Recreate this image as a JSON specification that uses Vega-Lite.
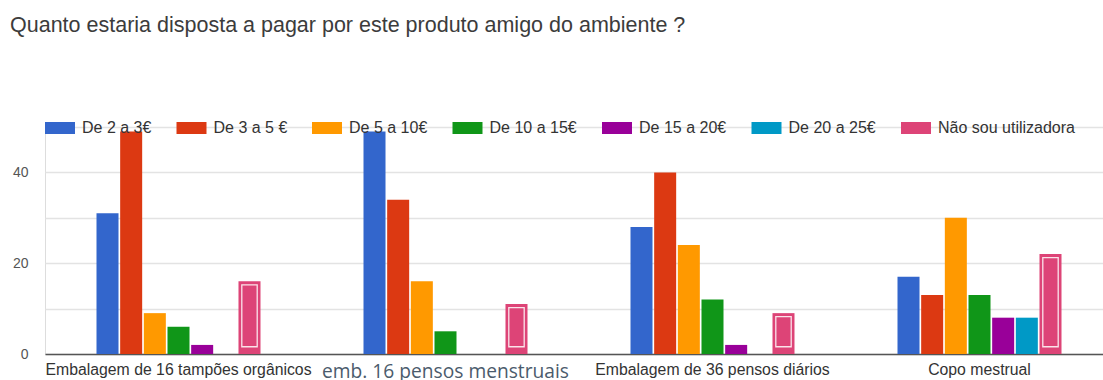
{
  "$schema": "https://vega.github.io/schema/vega-lite/v6.json",
  "autosize": {"type": "none"},
  "padding": {"left": 45, "top": 127, "right": 0, "bottom": 26},
  "width": 1058,
  "height": 227,
  "background": "white",
  "title": {
    "text": "Quanto estaria disposta a pagar por este produto amigo do ambiente ?",
    "anchor": "start",
    "frame": "group",
    "font": "Liberation Sans",
    "fontSize": 21.5,
    "fontWeight": "normal",
    "color": "#3c3c3c",
    "dx": -35,
    "offset": 80
  },
  "data": {
    "values": [
      {"produto": "Embalagem de 16 tampões orgânicos", "faixa": "De 2 a 3€", "n": 31},
      {"produto": "Embalagem de 16 tampões orgânicos", "faixa": "De 3 a 5 €", "n": 49},
      {"produto": "Embalagem de 16 tampões orgânicos", "faixa": "De 5 a 10€", "n": 9},
      {"produto": "Embalagem de 16 tampões orgânicos", "faixa": "De 10 a 15€", "n": 6},
      {"produto": "Embalagem de 16 tampões orgânicos", "faixa": "De 15 a 20€", "n": 2},
      {"produto": "Embalagem de 16 tampões orgânicos", "faixa": "De 20 a 25€", "n": 0},
      {"produto": "Embalagem de 16 tampões orgânicos", "faixa": "Não sou utilizadora", "n": 16},
      {"produto": "emb. 16 pensos menstruais", "faixa": "De 2 a 3€", "n": 49},
      {"produto": "emb. 16 pensos menstruais", "faixa": "De 3 a 5 €", "n": 34},
      {"produto": "emb. 16 pensos menstruais", "faixa": "De 5 a 10€", "n": 16},
      {"produto": "emb. 16 pensos menstruais", "faixa": "De 10 a 15€", "n": 5},
      {"produto": "emb. 16 pensos menstruais", "faixa": "De 15 a 20€", "n": 0},
      {"produto": "emb. 16 pensos menstruais", "faixa": "De 20 a 25€", "n": 0},
      {"produto": "emb. 16 pensos menstruais", "faixa": "Não sou utilizadora", "n": 11},
      {"produto": "Embalagem de 36 pensos diários", "faixa": "De 2 a 3€", "n": 28},
      {"produto": "Embalagem de 36 pensos diários", "faixa": "De 3 a 5 €", "n": 40},
      {"produto": "Embalagem de 36 pensos diários", "faixa": "De 5 a 10€", "n": 24},
      {"produto": "Embalagem de 36 pensos diários", "faixa": "De 10 a 15€", "n": 12},
      {"produto": "Embalagem de 36 pensos diários", "faixa": "De 15 a 20€", "n": 2},
      {"produto": "Embalagem de 36 pensos diários", "faixa": "De 20 a 25€", "n": 0},
      {"produto": "Embalagem de 36 pensos diários", "faixa": "Não sou utilizadora", "n": 9},
      {"produto": "Copo mestrual", "faixa": "De 2 a 3€", "n": 17},
      {"produto": "Copo mestrual", "faixa": "De 3 a 5 €", "n": 13},
      {"produto": "Copo mestrual", "faixa": "De 5 a 10€", "n": 30},
      {"produto": "Copo mestrual", "faixa": "De 10 a 15€", "n": 13},
      {"produto": "Copo mestrual", "faixa": "De 15 a 20€", "n": 8},
      {"produto": "Copo mestrual", "faixa": "De 20 a 25€", "n": 8},
      {"produto": "Copo mestrual", "faixa": "Não sou utilizadora", "n": 22}
    ]
  },
  "encoding": {
    "x": {
      "field": "produto",
      "type": "nominal",
      "sort": ["Embalagem de 16 tampões orgânicos", "emb. 16 pensos menstruais", "Embalagem de 36 pensos diários", "Copo mestrual"],
      "scale": {"range": [0, 1068], "paddingInner": 0, "paddingOuter": 0},
      "title": null,
      "axis": {
        "labelAngle": 0,
        "ticks": false,
        "grid": false,
        "domainColor": "#555555",
        "domainWidth": 1.5,
        "labelPadding": 8,
        "labelLimit": 0,
        "labelFont": {"condition": {"test": "datum.value == 'emb. 16 pensos menstruais'", "value": "Open Sans"}, "value": "Liberation Sans"},
        "labelFontSize": {"condition": {"test": "datum.value == 'emb. 16 pensos menstruais'", "value": 19.2}, "value": 15.8},
        "labelColor": {"condition": {"test": "datum.value == 'emb. 16 pensos menstruais'", "value": "#4b5b6c"}, "value": "#333333"}
      }
    },
    "y": {
      "field": "n",
      "type": "quantitative",
      "scale": {"domain": [0, 50], "nice": false},
      "title": null,
      "axis": {
        "values": [0, 10, 20, 30, 40, 50],
        "labelExpr": "datum.value == 0 || datum.value == 20 || datum.value == 40 ? datum.label : ''",
        "domain": false,
        "ticks": true,
        "tickSize": 14,
        "tickOpacity": 0,
        "gridColor": "#e3e3e3",
        "gridWidth": 1.5,
        "labelFont": "Liberation Sans",
        "labelFontSize": 14,
        "labelColor": "#555555",
        "labelPadding": 3
      }
    }
  },
  "resolve": {"scale": {"xOffset": "independent"}},
  "layer": [
    {
      "mark": {"type": "bar"},
      "encoding": {
        "xOffset": {
          "field": "faixa",
          "type": "nominal",
          "sort": ["De 2 a 3€", "De 3 a 5 €", "De 5 a 10€", "De 10 a 15€", "De 15 a 20€", "De 20 a 25€", "Não sou utilizadora"],
          "scale": {
            "domain": ["De 2 a 3€", "De 3 a 5 €", "De 5 a 10€", "De 10 a 15€", "De 15 a 20€", "De 20 a 25€", "Não sou utilizadora"],
            "range": [51.5, 215.5],
            "paddingInner": 0.07,
            "paddingOuter": 0
          }
        },
        "color": {
          "field": "faixa",
          "type": "nominal",
          "scale": {
            "domain": ["De 2 a 3€", "De 3 a 5 €", "De 5 a 10€", "De 10 a 15€", "De 15 a 20€", "De 20 a 25€", "Não sou utilizadora"],
            "range": ["#3366cc", "#dc3912", "#ff9900", "#109618", "#990099", "#0099c6", "#dd4477"]
          },
          "legend": {
            "orient": "none",
            "legendX": 0,
            "legendY": -11,
            "direction": "horizontal",
            "title": null,
            "padding": 0,
            "symbolType": "M-1,-0.5H1.5V0.5H-1Z",
            "symbolSize": 576,
            "symbolStrokeWidth": 0,
            "symbolOpacity": 1,
            "labelOffset": 13,
            "columnPadding": 24.5,
            "labelFont": "Liberation Sans",
            "labelFontSize": 16,
            "labelColor": "#333333",
            "labelLimit": 0
          }
        }
      }
    },
    {
      "transform": [{"filter": "datum.faixa == 'Não sou utilizadora'"}],
      "mark": {
        "type": "bar",
        "fill": "#dd4477",
        "stroke": "#fbe3ea",
        "strokeWidth": 1.3,
        "yOffset": 3.5
      },
      "encoding": {
        "xOffset": {
          "field": "faixa",
          "type": "nominal",
          "scale": {
            "domain": ["Não sou utilizadora"],
            "range": [196.8, 212.2],
            "paddingInner": 0,
            "paddingOuter": 0
          }
        },
        "y2": {"datum": 1.6}
      }
    }
  ]
}
